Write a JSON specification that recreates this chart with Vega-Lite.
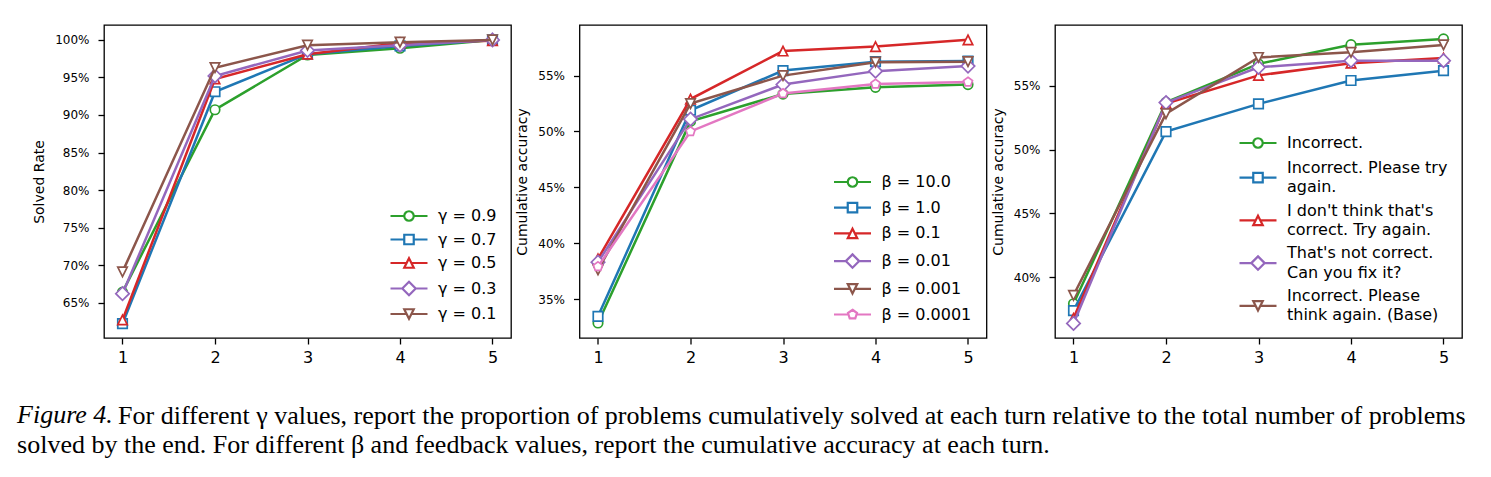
{
  "$schema": "https://vega.github.io/schema/vega-lite/v6.json",
  "background": "white",
  "padding": {"left": 17, "top": 24, "right": 20, "bottom": 8},
  "config": {
    "font": "DejaVu Sans",
    "view": {"stroke": "black", "strokeWidth": 1.3},
    "axis": {
      "domain": false,
      "grid": false,
      "ticks": true,
      "tickColor": "black",
      "tickWidth": 1.3,
      "tickSize": 6,
      "labelColor": "black",
      "titleColor": "black",
      "labelFont": "DejaVu Sans",
      "titleFont": "DejaVu Sans",
      "titleFontWeight": "normal"
    },
    "axisX": {"labelFontSize": 16, "labelPadding": 5},
    "axisY": {"labelFontSize": 12, "labelPadding": 9, "titleFontSize": 14, "titlePadding": 8},
    "legend": {
      "orient": "bottom-right",
      "offset": 14,
      "padding": 0,
      "labelFont": "DejaVu Sans",
      "labelFontSize": 16,
      "labelColor": "black",
      "labelLimit": 400,
      "symbolSize": 90,
      "labelOffset": 21
    }
  },
  "title": {
    "text": "Figure 4.",
    "subtitle": "solved by the end. For different β and feedback values, report the cumulative accuracy at each turn.",
    "orient": "bottom",
    "anchor": "start",
    "frame": "bounds",
    "offset": -27,
    "dx": -15,
    "font": "Liberation Serif",
    "fontSize": 26,
    "fontStyle": "italic",
    "fontWeight": "normal",
    "color": "black",
    "subtitleFont": "Liberation Serif",
    "subtitleFontSize": 26,
    "subtitleFontStyle": "normal",
    "subtitleFontWeight": "normal",
    "subtitleColor": "black",
    "subtitlePadding": 4
  },
  "vconcat": [
    {
      "title": {
        "text": "For different γ values, report the proportion of problems cumulatively solved at each turn relative to the total number of problems",
        "orient": "bottom",
        "anchor": "start",
        "frame": "bounds",
        "offset": 37,
        "dx": 86,
        "font": "Liberation Serif",
        "fontSize": 26,
        "fontStyle": "normal",
        "fontWeight": "normal",
        "color": "black"
      },
      "bounds": "flush",
      "spacing": 68.5,
      "resolve": {"scale": {"color": "independent", "y": "independent"}, "legend": {"color": "independent"}},
      "hconcat": [
        {
          "width": 407,
          "height": 313,
          "data": {"values": [
            {"series": "γ = 0.9", "turn": 1, "value": 0.664},
            {"series": "γ = 0.9", "turn": 2, "value": 0.907},
            {"series": "γ = 0.9", "turn": 3, "value": 0.980},
            {"series": "γ = 0.9", "turn": 4, "value": 0.989},
            {"series": "γ = 0.9", "turn": 5, "value": 1.000},
            {"series": "γ = 0.7", "turn": 1, "value": 0.622},
            {"series": "γ = 0.7", "turn": 2, "value": 0.931},
            {"series": "γ = 0.7", "turn": 3, "value": 0.981},
            {"series": "γ = 0.7", "turn": 4, "value": 0.992},
            {"series": "γ = 0.7", "turn": 5, "value": 1.000},
            {"series": "γ = 0.5", "turn": 1, "value": 0.627},
            {"series": "γ = 0.5", "turn": 2, "value": 0.948},
            {"series": "γ = 0.5", "turn": 3, "value": 0.981},
            {"series": "γ = 0.5", "turn": 4, "value": 0.996},
            {"series": "γ = 0.5", "turn": 5, "value": 0.999},
            {"series": "γ = 0.3", "turn": 1, "value": 0.662},
            {"series": "γ = 0.3", "turn": 2, "value": 0.952},
            {"series": "γ = 0.3", "turn": 3, "value": 0.986},
            {"series": "γ = 0.3", "turn": 4, "value": 0.993},
            {"series": "γ = 0.3", "turn": 5, "value": 1.000},
            {"series": "γ = 0.1", "turn": 1, "value": 0.691},
            {"series": "γ = 0.1", "turn": 2, "value": 0.963},
            {"series": "γ = 0.1", "turn": 3, "value": 0.993},
            {"series": "γ = 0.1", "turn": 4, "value": 0.997},
            {"series": "γ = 0.1", "turn": 5, "value": 1.000}
          ]},
          "encoding": {
            "x": {"field": "turn", "type": "quantitative", "scale": {"domain": [0.8, 5.2], "nice": false, "zero": false}, "axis": {"values": [1, 2, 3, 4, 5], "format": "d", "title": null}},
            "y": {"field": "value", "type": "quantitative", "scale": {"domain": [0.6029, 1.0199], "nice": false, "zero": false}, "axis": {"values": [0.65, 0.7, 0.75, 0.8, 0.85, 0.9, 0.95, 1.0], "format": ".0%", "title": "Solved Rate"}},
            "color": {
              "field": "series", "type": "nominal",
              "scale": {"domain": ["γ = 0.9", "γ = 0.7", "γ = 0.5", "γ = 0.3", "γ = 0.1"], "range": ["#2ca02c", "#1f77b4", "#d62728", "#9467bd", "#8c564b"]},
              "legend": {
                "title": null,
                "rowPadding": 3.5,
                "encode": {"symbols": {"update": {
                  "shape": {"signal": "['M-3.9,0H-1M1,0H3.9M1,0A1,1 0 1 1 -1,0A1,1 0 1 1 1,0Z','M-3.9,0H-1M1,0H3.9M-1,-1H1V1H-1Z','M-3.9,0H-0.5M0.5,0H3.9M0,-1L1,1H-1Z','M-3.9,0H-1.414M1.414,0H3.9M0,-1.414L1.414,0L0,1.414L-1.414,0Z','M-3.9,0H-0.5M0.5,0H3.9M0,1L1,-1H-1Z','M-3.9,0H-0.85M0.85,0H3.9M0,-1L0.951,-0.309L0.588,0.809L-0.588,0.809L-0.951,-0.309Z'][datum.index]"},
                  "fill": {"value": "white"},
                  "strokeWidth": {"value": 2.2},
                  "opacity": {"value": 1}
                }}}
              }
            }
          },
          "layer": [
            {"transform": [{"filter": {"field": "series", "equal": "γ = 0.9"}}], "mark": {"type": "line", "strokeWidth": 2.5, "point": {"shape": "M1,0A1,1 0 1 1 -1,0A1,1 0 1 1 1,0Z", "filled": false, "fill": "white", "size": 90, "strokeWidth": 1.7, "opacity": 1}}},
            {"transform": [{"filter": {"field": "series", "equal": "γ = 0.7"}}], "mark": {"type": "line", "strokeWidth": 2.5, "point": {"shape": "M-1,-1H1V1H-1Z", "filled": false, "fill": "white", "size": 90, "strokeWidth": 1.7, "opacity": 1}}},
            {"transform": [{"filter": {"field": "series", "equal": "γ = 0.5"}}], "mark": {"type": "line", "strokeWidth": 2.5, "point": {"shape": "M0,-1L1,1H-1Z", "filled": false, "fill": "white", "size": 90, "strokeWidth": 1.7, "opacity": 1}}},
            {"transform": [{"filter": {"field": "series", "equal": "γ = 0.3"}}], "mark": {"type": "line", "strokeWidth": 2.5, "point": {"shape": "M0,-1.414L1.414,0L0,1.414L-1.414,0Z", "filled": false, "fill": "white", "size": 90, "strokeWidth": 1.7, "opacity": 1}}},
            {"transform": [{"filter": {"field": "series", "equal": "γ = 0.1"}}], "mark": {"type": "line", "strokeWidth": 2.5, "point": {"shape": "M0,1L1,-1H-1Z", "filled": false, "fill": "white", "size": 90, "strokeWidth": 1.7, "opacity": 1}}}
          ]
        },
        {
          "width": 407,
          "height": 313,
          "data": {"values": [
            {"series": "β = 10.0", "turn": 1, "value": 0.3285},
            {"series": "β = 10.0", "turn": 2, "value": 0.509},
            {"series": "β = 10.0", "turn": 3, "value": 0.5335},
            {"series": "β = 10.0", "turn": 4, "value": 0.5395},
            {"series": "β = 10.0", "turn": 5, "value": 0.542},
            {"series": "β = 1.0", "turn": 1, "value": 0.3345},
            {"series": "β = 1.0", "turn": 2, "value": 0.519},
            {"series": "β = 1.0", "turn": 3, "value": 0.5545},
            {"series": "β = 1.0", "turn": 4, "value": 0.5625},
            {"series": "β = 1.0", "turn": 5, "value": 0.563},
            {"series": "β = 0.1", "turn": 1, "value": 0.386},
            {"series": "β = 0.1", "turn": 2, "value": 0.529},
            {"series": "β = 0.1", "turn": 3, "value": 0.572},
            {"series": "β = 0.1", "turn": 4, "value": 0.576},
            {"series": "β = 0.1", "turn": 5, "value": 0.582},
            {"series": "β = 0.01", "turn": 1, "value": 0.383},
            {"series": "β = 0.01", "turn": 2, "value": 0.511},
            {"series": "β = 0.01", "turn": 3, "value": 0.542},
            {"series": "β = 0.01", "turn": 4, "value": 0.554},
            {"series": "β = 0.01", "turn": 5, "value": 0.5585},
            {"series": "β = 0.001", "turn": 1, "value": 0.376},
            {"series": "β = 0.001", "turn": 2, "value": 0.525},
            {"series": "β = 0.001", "turn": 3, "value": 0.550},
            {"series": "β = 0.001", "turn": 4, "value": 0.562},
            {"series": "β = 0.001", "turn": 5, "value": 0.5625},
            {"series": "β = 0.0001", "turn": 1, "value": 0.379},
            {"series": "β = 0.0001", "turn": 2, "value": 0.500},
            {"series": "β = 0.0001", "turn": 3, "value": 0.534},
            {"series": "β = 0.0001", "turn": 4, "value": 0.5425},
            {"series": "β = 0.0001", "turn": 5, "value": 0.5443}
          ]},
          "encoding": {
            "x": {"field": "turn", "type": "quantitative", "scale": {"domain": [0.8, 5.2], "nice": false, "zero": false}, "axis": {"values": [1, 2, 3, 4, 5], "format": "d", "title": null}},
            "y": {"field": "value", "type": "quantitative", "scale": {"domain": [0.3151, 0.5953], "nice": false, "zero": false}, "axis": {"values": [0.35, 0.4, 0.45, 0.5, 0.55], "format": ".0%", "title": "Cumulative accuracy"}},
            "color": {
              "field": "series", "type": "nominal",
              "scale": {"domain": ["β = 10.0", "β = 1.0", "β = 0.1", "β = 0.01", "β = 0.001", "β = 0.0001"], "range": ["#2ca02c", "#1f77b4", "#d62728", "#9467bd", "#8c564b", "#e377c2"]},
              "legend": {
                "title": null,
                "offset": 15,
                "rowPadding": 5.7,
                "encode": {"symbols": {"update": {
                  "shape": {"signal": "['M-3.9,0H-1M1,0H3.9M1,0A1,1 0 1 1 -1,0A1,1 0 1 1 1,0Z','M-3.9,0H-1M1,0H3.9M-1,-1H1V1H-1Z','M-3.9,0H-0.5M0.5,0H3.9M0,-1L1,1H-1Z','M-3.9,0H-1.414M1.414,0H3.9M0,-1.414L1.414,0L0,1.414L-1.414,0Z','M-3.9,0H-0.5M0.5,0H3.9M0,1L1,-1H-1Z','M-3.9,0H-0.85M0.85,0H3.9M0,-1L0.951,-0.309L0.588,0.809L-0.588,0.809L-0.951,-0.309Z'][datum.index]"},
                  "fill": {"value": "white"},
                  "strokeWidth": {"value": 2.2},
                  "opacity": {"value": 1}
                }}}
              }
            }
          },
          "layer": [
            {"transform": [{"filter": {"field": "series", "equal": "β = 10.0"}}], "mark": {"type": "line", "strokeWidth": 2.5, "point": {"shape": "M1,0A1,1 0 1 1 -1,0A1,1 0 1 1 1,0Z", "filled": false, "fill": "white", "size": 90, "strokeWidth": 1.7, "opacity": 1}}},
            {"transform": [{"filter": {"field": "series", "equal": "β = 1.0"}}], "mark": {"type": "line", "strokeWidth": 2.5, "point": {"shape": "M-1,-1H1V1H-1Z", "filled": false, "fill": "white", "size": 90, "strokeWidth": 1.7, "opacity": 1}}},
            {"transform": [{"filter": {"field": "series", "equal": "β = 0.1"}}], "mark": {"type": "line", "strokeWidth": 2.5, "point": {"shape": "M0,-1L1,1H-1Z", "filled": false, "fill": "white", "size": 90, "strokeWidth": 1.7, "opacity": 1}}},
            {"transform": [{"filter": {"field": "series", "equal": "β = 0.01"}}], "mark": {"type": "line", "strokeWidth": 2.5, "point": {"shape": "M0,-1.414L1.414,0L0,1.414L-1.414,0Z", "filled": false, "fill": "white", "size": 90, "strokeWidth": 1.7, "opacity": 1}}},
            {"transform": [{"filter": {"field": "series", "equal": "β = 0.001"}}], "mark": {"type": "line", "strokeWidth": 2.5, "point": {"shape": "M0,1L1,-1H-1Z", "filled": false, "fill": "white", "size": 90, "strokeWidth": 1.7, "opacity": 1}}},
            {"transform": [{"filter": {"field": "series", "equal": "β = 0.0001"}}], "mark": {"type": "line", "strokeWidth": 2.5, "point": {"shape": "M0,-1L0.951,-0.309L0.588,0.809L-0.588,0.809L-0.951,-0.309Z", "filled": false, "fill": "white", "size": 90, "strokeWidth": 1.7, "opacity": 1}}}
          ]
        },
        {
          "width": 407,
          "height": 313,
          "data": {"values": [
            {"series": "Incorrect.", "turn": 1, "value": 0.3794},
            {"series": "Incorrect.", "turn": 2, "value": 0.537},
            {"series": "Incorrect.", "turn": 3, "value": 0.567},
            {"series": "Incorrect.", "turn": 4, "value": 0.582},
            {"series": "Incorrect.", "turn": 5, "value": 0.5865},
            {"series": "Incorrect. Please try\nagain.", "turn": 1, "value": 0.374},
            {"series": "Incorrect. Please try\nagain.", "turn": 2, "value": 0.514},
            {"series": "Incorrect. Please try\nagain.", "turn": 3, "value": 0.5357},
            {"series": "Incorrect. Please try\nagain.", "turn": 4, "value": 0.554},
            {"series": "Incorrect. Please try\nagain.", "turn": 5, "value": 0.5617},
            {"series": "I don't think that's\ncorrect. Try again.", "turn": 1, "value": 0.368},
            {"series": "I don't think that's\ncorrect. Try again.", "turn": 2, "value": 0.536},
            {"series": "I don't think that's\ncorrect. Try again.", "turn": 3, "value": 0.558},
            {"series": "I don't think that's\ncorrect. Try again.", "turn": 4, "value": 0.5675},
            {"series": "I don't think that's\ncorrect. Try again.", "turn": 5, "value": 0.5715},
            {"series": "That's not correct.\nCan you fix it?", "turn": 1, "value": 0.364},
            {"series": "That's not correct.\nCan you fix it?", "turn": 2, "value": 0.5367},
            {"series": "That's not correct.\nCan you fix it?", "turn": 3, "value": 0.5643},
            {"series": "That's not correct.\nCan you fix it?", "turn": 4, "value": 0.5695},
            {"series": "That's not correct.\nCan you fix it?", "turn": 5, "value": 0.5695},
            {"series": "Incorrect. Please\nthink again. (Base)", "turn": 1, "value": 0.386},
            {"series": "Incorrect. Please\nthink again. (Base)", "turn": 2, "value": 0.528},
            {"series": "Incorrect. Please\nthink again. (Base)", "turn": 3, "value": 0.572},
            {"series": "Incorrect. Please\nthink again. (Base)", "turn": 4, "value": 0.576},
            {"series": "Incorrect. Please\nthink again. (Base)", "turn": 5, "value": 0.5818}
          ]},
          "encoding": {
            "x": {"field": "turn", "type": "quantitative", "scale": {"domain": [0.8, 5.2], "nice": false, "zero": false}, "axis": {"values": [1, 2, 3, 4, 5], "format": "d", "title": null}},
            "y": {"field": "value", "type": "quantitative", "scale": {"domain": [0.3526, 0.5974], "nice": false, "zero": false}, "axis": {"values": [0.4, 0.45, 0.5, 0.55], "format": ".0%", "title": "Cumulative accuracy"}},
            "color": {
              "field": "series", "type": "nominal",
              "scale": {"domain": ["Incorrect.", "Incorrect. Please try\nagain.", "I don't think that's\ncorrect. Try again.", "That's not correct.\nCan you fix it?", "Incorrect. Please\nthink again. (Base)"], "range": ["#2ca02c", "#1f77b4", "#d62728", "#9467bd", "#8c564b"]},
              "legend": {
                "title": null,
                "offset": 14,
                "rowPadding": 6.7,
                "labelExpr": "split(datum.label, '\\n')",
                "encode": {
                  "symbols": {"update": {
                    "shape": {"signal": "['M-3.9,0H-1M1,0H3.9M1,0A1,1 0 1 1 -1,0A1,1 0 1 1 1,0Z','M-3.9,0H-1M1,0H3.9M-1,-1H1V1H-1Z','M-3.9,0H-0.5M0.5,0H3.9M0,-1L1,1H-1Z','M-3.9,0H-1.414M1.414,0H3.9M0,-1.414L1.414,0L0,1.414L-1.414,0Z','M-3.9,0H-0.5M0.5,0H3.9M0,1L1,-1H-1Z','M-3.9,0H-0.85M0.85,0H3.9M0,-1L0.951,-0.309L0.588,0.809L-0.588,0.809L-0.951,-0.309Z'][datum.index]"},
                    "fill": {"value": "white"},
                    "strokeWidth": {"value": 2.2},
                    "opacity": {"value": 1}
                  }},
                  "labels": {"update": {
                    "lineHeight": {"value": 19.4},
                    "dy": {"signal": "indexof(datum.label, '\\n') >= 0 ? -9.7 : 0"}
                  }}
                }
              }
            }
          },
          "layer": [
            {"transform": [{"filter": {"field": "series", "equal": "Incorrect."}}], "mark": {"type": "line", "strokeWidth": 2.5, "point": {"shape": "M1,0A1,1 0 1 1 -1,0A1,1 0 1 1 1,0Z", "filled": false, "fill": "white", "size": 90, "strokeWidth": 1.7, "opacity": 1}}},
            {"transform": [{"filter": {"field": "series", "equal": "Incorrect. Please try\nagain."}}], "mark": {"type": "line", "strokeWidth": 2.5, "point": {"shape": "M-1,-1H1V1H-1Z", "filled": false, "fill": "white", "size": 90, "strokeWidth": 1.7, "opacity": 1}}},
            {"transform": [{"filter": {"field": "series", "equal": "I don't think that's\ncorrect. Try again."}}], "mark": {"type": "line", "strokeWidth": 2.5, "point": {"shape": "M0,-1L1,1H-1Z", "filled": false, "fill": "white", "size": 90, "strokeWidth": 1.7, "opacity": 1}}},
            {"transform": [{"filter": {"field": "series", "equal": "That's not correct.\nCan you fix it?"}}], "mark": {"type": "line", "strokeWidth": 2.5, "point": {"shape": "M0,-1.414L1.414,0L0,1.414L-1.414,0Z", "filled": false, "fill": "white", "size": 90, "strokeWidth": 1.7, "opacity": 1}}},
            {"transform": [{"filter": {"field": "series", "equal": "Incorrect. Please\nthink again. (Base)"}}], "mark": {"type": "line", "strokeWidth": 2.5, "point": {"shape": "M0,1L1,-1H-1Z", "filled": false, "fill": "white", "size": 90, "strokeWidth": 1.7, "opacity": 1}}}
          ]
        }
      ]
    }
  ]
}
